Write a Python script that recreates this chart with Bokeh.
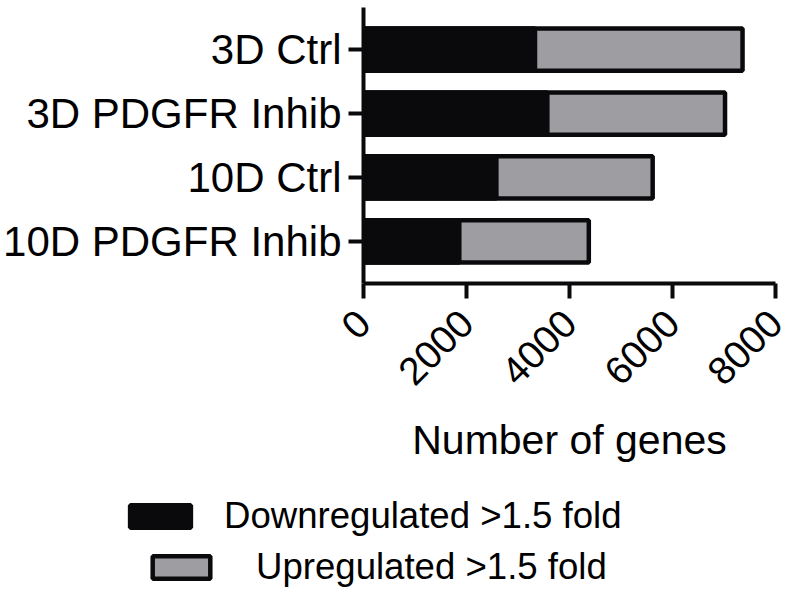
from bokeh.plotting import figure
from bokeh.models import ColumnDataSource, FactorRange, Range1d, Legend, LegendItem, FixedTicker
from bokeh.layouts import column
from bokeh.embed import file_html
from bokeh.resources import INLINE
import math

# ---- data ----
groups = ["3D Ctrl", "3D PDGFR Inhib", "10D Ctrl", "10D PDGFR Inhib"]
downregulated = [3330, 3570, 2580, 1860]
upregulated = [4030, 3450, 3035, 2515]
x_ticks = [0, 2000, 4000, 6000, 8000]
series_labels = ["Downregulated >1.5 fold", "Upregulated >1.5 fold"]

BLACK = "#0a0a0c"
GRAY = "#9e9ea2"
FONT = "Liberation Sans"

totals = [d + u for d, u in zip(downregulated, upregulated)]
src = ColumnDataSource(dict(g=groups, down=downregulated, total=totals,
                            zero=[0] * len(groups)))

p = figure(width=787, height=478, output_backend="svg", toolbar_location=None,
           y_range=FactorRange(factors=groups[::-1], range_padding=0.08),
           x_range=Range1d(0, 8000),
           min_border_left=363, min_border_right=12, min_border_top=7,
           min_border_bottom=195)
p.frame_align = False
p.outline_line_color = None
p.grid.visible = False

bar_style = dict(height=0.66, line_color=BLACK, line_width=4.5)
r_up = p.hbar(y="g", left="zero", right="total", source=src,
              fill_color=GRAY, **bar_style)
r_down = p.hbar(y="g", left="zero", right="down", source=src,
                fill_color=BLACK, **bar_style)

for ax in (p.xaxis[0], p.yaxis[0]):
    ax.axis_line_width = 4
    ax.axis_line_color = BLACK
    ax.major_tick_line_width = 4
    ax.major_tick_line_color = BLACK
    ax.major_tick_out = 15
    ax.major_tick_in = 0
    ax.minor_tick_line_color = None
    ax.major_label_text_font = FONT
    ax.major_label_text_color = "black"

p.yaxis.major_label_text_font_size = "42px"
p.yaxis.major_label_standoff = 7

p.xaxis.ticker = FixedTicker(ticks=x_ticks)
p.xaxis.major_label_orientation = math.pi / 4
p.xaxis.major_label_text_font_size = "39px"
p.xaxis.major_label_standoff = 18
p.xaxis.axis_label = "Number of genes"
p.xaxis.axis_label_text_font = FONT
p.xaxis.axis_label_text_font_size = "41px"
p.xaxis.axis_label_text_font_style = "normal"
p.xaxis.axis_label_text_color = "black"
p.xaxis.axis_label_standoff = 17

# ---- legend panel: same series; its category axis holds no group, so no bar shows ----
q = figure(width=787, height=120, output_backend="svg", toolbar_location=None,
           x_range=Range1d(0, 8000), y_range=FactorRange(factors=["legend"]),
           x_axis_type=None, y_axis_type=None,
           min_border_left=0, min_border_right=0, min_border_top=0,
           min_border_bottom=0)
q.frame_align = False
q.outline_line_color = None
q.grid.visible = False
lr_up = q.hbar(y="g", left="zero", right="total", source=src,
               fill_color=GRAY, **bar_style)
lr_down = q.hbar(y="g", left="zero", right="down", source=src,
                 fill_color=BLACK, **bar_style)

def make_legend(label, renderer, loc, gw, gh, standoff):
    return Legend(items=[LegendItem(label=label, renderers=[renderer])],
                  location=loc, orientation="vertical",
                  glyph_width=gw, glyph_height=gh, label_standoff=standoff,
                  label_text_font=FONT, label_text_font_size="36.6px",
                  label_text_color="black", padding=0, margin=0, spacing=0,
                  border_line_alpha=0, background_fill_alpha=0)

q.add_layout(make_legend(series_labels[0], lr_down, (122, 61), 76, 28, 26))
q.add_layout(make_legend(series_labels[1], lr_up, (145, 10), 72, 28, 39))

layout = column(p, q, spacing=0)
open("out.html", "w").write(file_html(layout, INLINE))
